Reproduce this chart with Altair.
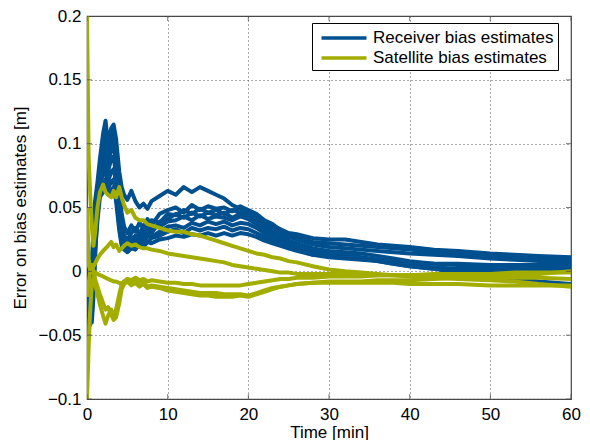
import altair as alt
import pandas as pd

# ---------------- data ----------------
time_min = [0, 0.2, 0.4, 0.6, 0.8, 1.0, 1.3, 1.6, 2.0, 2.3, 2.6, 3.0, 3.3, 3.6, 4.0, 4.3, 4.6, 5.0,
            5.5, 6, 6.5, 7, 7.5, 8, 9, 10, 11, 12, 13, 14, 15, 16, 17, 18, 19, 20, 21, 22, 23, 24,
            25, 26, 28, 30, 32, 34, 36, 38, 40, 43, 46, 50, 53, 56, 60]

rx1 = [0.02, -0.005, -0.025, 0.005, 0.035, 0.055, 0.07, 0.088, 0.108, 0.118, 0.1, 0.112, 0.115, 0.104,
       0.078, 0.066, 0.06, 0.056, 0.063, 0.055, 0.05, 0.053, 0.049, 0.055, 0.059, 0.063, 0.06, 0.066,
       0.062, 0.066, 0.063, 0.06, 0.057, 0.052, 0.049, 0.047, 0.043, 0.039, 0.036, 0.033, 0.03, 0.029,
       0.026, 0.025, 0.025, 0.023, 0.021, 0.02, 0.019, 0.017, 0.016, 0.014, 0.013, 0.012, 0.011]
rx2 = [0.03, 0.01, -0.015, -0.03, 0.0, 0.03, 0.06, 0.08, 0.1, 0.112, 0.095, 0.105, 0.11, 0.098,
       0.065, 0.045, 0.035, 0.03, 0.036, 0.031, 0.038, 0.034, 0.041, 0.036, 0.045, 0.048, 0.05, 0.046,
       0.052, 0.048, 0.051, 0.049, 0.05, 0.047, 0.051, 0.048, 0.045, 0.04, 0.037, 0.032, 0.029, 0.027,
       0.023, 0.022, 0.021, 0.02, 0.019, 0.018, 0.017, 0.015, 0.014, 0.012, 0.011, 0.01, 0.009]
rx3 = [0.01, -0.02, -0.035, -0.04, -0.02, 0.01, 0.05, 0.075, 0.095, 0.105, 0.09, 0.1, 0.104, 0.092,
       0.055, 0.035, 0.028, 0.025, 0.03, 0.034, 0.029, 0.036, 0.033, 0.04, 0.038, 0.045, 0.044, 0.048,
       0.045, 0.049, 0.046, 0.048, 0.045, 0.048, 0.046, 0.047, 0.042, 0.039, 0.034, 0.031, 0.027, 0.025,
       0.021, 0.019, 0.018, 0.017, 0.016, 0.015, 0.014, 0.013, 0.012, 0.01, 0.009, 0.008, 0.007]
rx4 = [-0.005, -0.03, -0.042, -0.035, -0.01, 0.02, 0.045, 0.07, 0.09, 0.1, 0.085, 0.095, 0.098, 0.085,
       0.05, 0.03, 0.024, 0.02, 0.027, 0.024, 0.031, 0.027, 0.035, 0.03, 0.039, 0.041, 0.045, 0.042,
       0.046, 0.043, 0.046, 0.044, 0.046, 0.042, 0.045, 0.044, 0.04, 0.036, 0.031, 0.028, 0.024, 0.022,
       0.018, 0.016, 0.015, 0.014, 0.012, 0.01, 0.008, 0.006, 0.005, 0.004, 0.004, 0.004, 0.004]
rx5 = [0.025, 0.0, -0.02, -0.028, 0.005, 0.035, 0.055, 0.065, 0.08, 0.09, 0.078, 0.088, 0.09, 0.075,
       0.045, 0.028, 0.022, 0.018, 0.024, 0.028, 0.025, 0.031, 0.028, 0.034, 0.035, 0.039, 0.04, 0.043,
       0.04, 0.044, 0.041, 0.043, 0.042, 0.04, 0.043, 0.041, 0.037, 0.033, 0.029, 0.026, 0.022, 0.02,
       0.016, 0.014, 0.013, 0.011, 0.009, 0.007, 0.005, 0.003, 0.002, 0.002, 0.002, 0.002, 0.002]
rx6 = [0.015, -0.01, -0.03, -0.02, 0.01, 0.04, 0.06, 0.07, 0.075, 0.08, 0.07, 0.078, 0.08, 0.07,
       0.04, 0.025, 0.02, 0.017, 0.021, 0.019, 0.026, 0.022, 0.028, 0.027, 0.031, 0.035, 0.036, 0.034,
       0.038, 0.036, 0.039, 0.037, 0.039, 0.036, 0.038, 0.037, 0.034, 0.03, 0.027, 0.023, 0.02, 0.018,
       0.014, 0.012, 0.011, 0.01, 0.008, 0.006, 0.004, 0.002, 0.001, 0.001, 0.0, 0.0, 0.0]
rx7 = [0.0, -0.025, -0.038, -0.03, -0.005, 0.025, 0.05, 0.062, 0.068, 0.072, 0.065, 0.07, 0.072, 0.06,
       0.035, 0.022, 0.018, 0.016, 0.02, 0.023, 0.02, 0.025, 0.023, 0.026, 0.028, 0.031, 0.033, 0.03,
       0.034, 0.032, 0.034, 0.033, 0.035, 0.032, 0.034, 0.033, 0.03, 0.027, 0.024, 0.021, 0.018, 0.017,
       0.013, 0.011, 0.01, 0.009, 0.008, 0.006, 0.004, 0.002, -0.001, -0.004, -0.006, -0.008, -0.01]
rx8 = [0.02, 0.005, -0.01, -0.025, -0.015, 0.015, 0.04, 0.058, 0.062, 0.066, 0.06, 0.064, 0.066, 0.055,
       0.032, 0.02, 0.017, 0.015, 0.018, 0.017, 0.021, 0.019, 0.023, 0.022, 0.025, 0.026, 0.028, 0.027,
       0.029, 0.028, 0.03, 0.028, 0.03, 0.028, 0.03, 0.029, 0.027, 0.024, 0.022, 0.02, 0.018, 0.016,
       0.013, 0.012, 0.011, 0.01, 0.009, 0.008, 0.007, 0.006, 0.006, 0.005, 0.005, 0.005, 0.005]

sat1 = [0.2, 0.09, 0.06, 0.035, 0.02, 0.03, 0.05, 0.062, 0.068, 0.062, 0.06, 0.058, 0.063, 0.058,
        0.066, 0.058, 0.052, 0.046, 0.048, 0.042, 0.04, 0.04, 0.037, 0.036, 0.034, 0.032, 0.031, 0.031,
        0.029, 0.028, 0.026, 0.024, 0.022, 0.02, 0.018, 0.016, 0.014, 0.013, 0.011, 0.01, 0.008, 0.007,
        0.004, 0.0015, 0.0, -0.001, -0.002, -0.003, -0.004, -0.005, -0.006, -0.007, -0.008, -0.01, -0.012]
sat2 = [0.05, 0.01, 0.0, 0.002, 0.004, 0.006, 0.01, 0.013, 0.016, 0.018, 0.02, 0.023, 0.019, 0.021,
        0.016, 0.018, 0.02, 0.022, 0.02, 0.021, 0.019, 0.018, 0.018, 0.017, 0.016, 0.014, 0.013, 0.012,
        0.011, 0.01, 0.009, 0.008, 0.007, 0.005, 0.004, 0.003, 0.002, 0.001, 0.0, -0.001, -0.001, -0.002,
        -0.002, -0.002, -0.002, -0.003, -0.003, -0.003, -0.003, -0.004, -0.004, -0.005, -0.005, -0.005, -0.006]
sat3 = [0.02, 0.005, 0.002, 0.001, 0.0, -0.001, -0.002, -0.003, -0.004, -0.005, -0.006, -0.007, -0.008, -0.008,
        -0.009, -0.01, -0.008, -0.006, -0.007, -0.005, -0.007, -0.006, -0.008, -0.007, -0.008, -0.009, -0.009, -0.01,
        -0.01, -0.011, -0.011, -0.011, -0.011, -0.011, -0.011, -0.01, -0.009, -0.008, -0.007, -0.006, -0.006, -0.005,
        -0.005, -0.004, -0.004, -0.004, -0.003, -0.003, -0.003, -0.002, -0.002, -0.002, -0.001, -0.001, -0.001]
sat4 = [-0.1, -0.06, -0.03, -0.01, -0.005, -0.01, -0.018, -0.026, -0.035, -0.041, -0.035, -0.03, -0.036, -0.03,
        -0.018, -0.01, -0.008, -0.006, -0.009, -0.007, -0.01, -0.009, -0.012, -0.011, -0.012, -0.013, -0.014, -0.015,
        -0.016, -0.017, -0.017, -0.017, -0.018, -0.018, -0.018, -0.019, -0.017, -0.015, -0.013, -0.012, -0.011, -0.01,
        -0.009, -0.008, -0.008, -0.008, -0.007, -0.007, -0.007, -0.006, -0.005, -0.004, -0.003, -0.002, 0.0]
sat5 = [-0.02, -0.01, 0.0, 0.005, 0.0, -0.006, -0.012, -0.018, -0.025, -0.03, -0.028, -0.034, -0.038, -0.036,
        -0.025, -0.014, -0.01, -0.008, -0.011, -0.009, -0.012, -0.01, -0.013, -0.012, -0.013, -0.015, -0.016, -0.017,
        -0.018, -0.019, -0.019, -0.02, -0.02, -0.02, -0.019, -0.02, -0.018, -0.016, -0.014, -0.012, -0.011, -0.01,
        -0.009, -0.009, -0.009, -0.009, -0.009, -0.009, -0.01, -0.01, -0.01, -0.011, -0.011, -0.011, -0.011]

series_names = ["Receiver bias estimates", "Satellite bias estimates"]
series_colors = ["#00508f", "#a2ad00"]
x_ticks = [0, 10, 20, 30, 40, 50, 60]
y_ticks = [-0.1, -0.05, 0, 0.05, 0.1, 0.15, 0.2]

receiver_lines = [rx1, rx2, rx3, rx4, rx5, rx6, rx7, rx8]
satellite_lines = [sat1, sat2, sat3, sat4, sat5]


def long_table(lines, kind, prefix):
    rows = []
    for k, vals in enumerate(lines):
        for t, v in zip(time_min, vals):
            rows.append({"t": t, "err": v, "line": f"{prefix}{k}", "kind": kind, "order": t})
    return pd.DataFrame(rows)


df_rx = long_table(receiver_lines, series_names[0], "r")
df_sat = long_table(satellite_lines, series_names[1], "s")

FONT = "Liberation Sans"
W, H = 484, 383
xs = alt.Scale(domain=[0, 60], nice=False, zero=False)
ys = alt.Scale(domain=[-0.1, 0.2], nice=False, zero=False)
color = alt.Color(
    "kind:N",
    scale=alt.Scale(domain=series_names, range=series_colors),
    legend=alt.Legend(
        title=None, orient="none", legendX=225, legendY=7,
        symbolType="M-2.5,0H2.5", symbolSize=324, symbolStrokeWidth=3.5,
        symbolOffset=17, labelOffset=18,
        labelFontSize=17, labelFont=FONT, labelColor="#000",
        rowPadding=1, padding=4,
        strokeColor="#000", fillColor="#ffffff", labelLimit=300,
    ),
)

xaxis = alt.Axis(values=x_ticks, title="Time [min]", format="~g", grid=True, labelFlush=False,
                 gridDash=[1, 3], gridColor="#555", gridWidth=1,
                 domain=False, ticks=False, labelPadding=7, titlePadding=2,
                 labelFontSize=17, titleFontSize=17, labelColor="#000", titleColor="#000",
                 labelFont=FONT, titleFont=FONT, titleFontWeight="normal")
yaxis = alt.Axis(values=y_ticks, title="Error on bias estimates [m]", format="~g", grid=True,
                 gridDash=[1, 3], gridColor="#555", gridWidth=1,
                 domain=False, ticks=False, labelPadding=6, titlePadding=8,
                 labelFontSize=17, titleFontSize=17, labelColor="#000", titleColor="#000",
                 labelFont=FONT, titleFont=FONT, titleFontWeight="normal")

rx_layer = alt.Chart(df_rx).mark_line(strokeWidth=4, clip=True, strokeJoin="round").encode(
    x=alt.X("t:Q", scale=xs, axis=xaxis),
    y=alt.Y("err:Q", scale=ys, axis=yaxis),
    color=color,
    detail="line:N",
    order="order:Q",
)
sat_layer = alt.Chart(df_sat).mark_line(strokeWidth=4, clip=True, strokeJoin="round").encode(
    x=alt.X("t:Q", scale=xs),
    y=alt.Y("err:Q", scale=ys),
    color=color,
    detail="line:N",
    order="order:Q",
)

xt = pd.DataFrame({"x": x_ticks})
yt = pd.DataFrame({"y": y_ticks})
tick_color = "#444"
ticks_bottom = alt.Chart(xt).mark_tick(orient="vertical", size=10, thickness=1, clip=True, color=tick_color).encode(
    x=alt.X("x:Q", scale=xs), y=alt.value(H))
ticks_top = alt.Chart(xt).mark_tick(orient="vertical", size=10, thickness=1, clip=True, color=tick_color).encode(
    x=alt.X("x:Q", scale=xs), y=alt.value(0))
ticks_left = alt.Chart(yt).mark_tick(orient="horizontal", size=10, thickness=1, clip=True, color=tick_color).encode(
    y=alt.Y("y:Q", scale=ys), x=alt.value(0))
ticks_right = alt.Chart(yt).mark_tick(orient="horizontal", size=10, thickness=1, clip=True, color=tick_color).encode(
    y=alt.Y("y:Q", scale=ys), x=alt.value(W))

chart = alt.layer(rx_layer, sat_layer, ticks_bottom, ticks_top, ticks_left, ticks_right).properties(
    width=W, height=H,
    autosize=alt.AutoSizeParams(type="none"),
    padding={"left": 79, "top": 8, "right": 11, "bottom": 41},
    background="#ffffff",
).configure_view(
    stroke="#444", strokeWidth=1.2,
)

chart.save("out.html", embed_options={"renderer": "svg", "actions": False})
